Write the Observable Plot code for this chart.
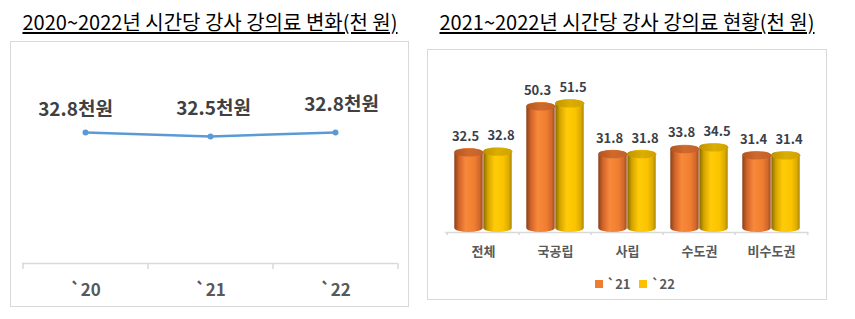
<!DOCTYPE html>
<html><head><meta charset="utf-8">
<script src="https://cdn.jsdelivr.net/npm/d3@7"></script>
<script src="https://cdn.jsdelivr.net/npm/@observablehq/plot@0.6"></script>
<style>
body{margin:0;background:#fff;font-family:"Noto Sans CJK KR","Noto Sans",sans-serif;}
#wrap{position:relative;width:855px;height:319px;overflow:hidden;background:#fff;}
.title{position:absolute;top:8px;font-size:20px;line-height:28px;text-decoration:underline;text-underline-offset:2px;white-space:nowrap;transform:translateX(-50%);color:#000;}
.box{position:absolute;border:1px solid #d9d9d9;box-sizing:border-box;}
.chart{position:absolute;}
.legend{position:absolute;top:274px;left:595px;display:flex;align-items:center;font-size:13px;font-weight:bold;color:#595959;white-space:nowrap;}
.legend span.sw{display:inline-block;width:8px;height:8px;margin-right:4px;}
.legend span.lb{margin-right:9px;}
</style></head>
<body><div id="wrap">
<div class="title" style="left:210px">2020~2022년 시간당 강사 강의료 변화(천 원)</div>
<div class="title" style="left:627px">2021~2022년 시간당 강사 강의료 현황(천 원)</div>
<div class="box" style="left:10px;top:41px;width:399px;height:266px"></div>
<div class="box" style="left:427px;top:49px;width:400px;height:251px"></div>
<div class="chart" id="left" style="left:10px;top:41px"></div>
<div class="chart" id="right" style="left:427px;top:49px"></div>
<div class="legend" id="legend"></div>
</div>
<script>
// ---- data ----
const years = ["`20", "`21", "`22"];
const fee = [32.8, 32.5, 32.8];
const categories = ["전체", "국공립", "사립", "수도권", "비수도권"];
const fee21 = [32.5, 50.3, 31.8, 33.8, 31.4];
const fee22 = [32.8, 51.5, 31.8, 34.5, 31.4];
const seriesNames = ["`21", "`22"];
const unit = "천원";

const font = '"Noto Sans CJK KR","Noto Sans",sans-serif';

// ---- left: line chart ----
const LW = 398, LH = 265, LmT = 8, LmB = 43, LmL = 12, LmR = 11;
const yDomL = [23, 39];
const pxPerUnitL = (LH - LmT - LmB) / (yDomL[1] - yDomL[0]);
const stepL = (LW - LmL - LmR) / years.length;
const nudges = [[-10, -23], [3, -28], [6, -28]];
const leftPlot = Plot.plot({
  width: LW, height: LH, marginTop: LmT, marginBottom: LmB, marginLeft: LmL, marginRight: LmR,
  style: {fontFamily: font, fontSize: "17px", fontWeight: "bold", color: "#595959", background: "transparent", overflow: "visible"},
  x: {type: "point", domain: years, padding: 0.5, tickSize: 0, tickPadding: 20, label: null},
  y: {domain: yDomL, axis: null},
  marks: [
    Plot.ruleY([yDomL[0]], {stroke: "#d9d9d9", strokeWidth: 1.5}),
    Plot.ruleX(years, {x: d => d, y1: yDomL[0], y2: yDomL[0] - 6 / pxPerUnitL, dx: -stepL / 2, stroke: "#d9d9d9", strokeWidth: 1.5}),
    Plot.ruleX(years.slice(-1), {x: d => d, y1: yDomL[0], y2: yDomL[0] - 6 / pxPerUnitL, dx: stepL / 2, stroke: "#d9d9d9", strokeWidth: 1.5}),
    Plot.line(fee, {x: (d, i) => years[i], y: d => d, stroke: "#5B9BD5", strokeWidth: 2.5}),
    Plot.dot(fee, {x: (d, i) => years[i], y: d => d, r: 3, fill: "#5B9BD5"}),
    ...years.map((yr, i) => Plot.text([fee[i]], {
      x: () => yr, y: d => d, text: d => d.toFixed(1) + unit,
      dx: nudges[i][0], dy: nudges[i][1], fontSize: 19, fontWeight: "bold", fill: "#404040"
    }))
  ]
});
document.getElementById("left").appendChild(leftPlot);

// ---- right: cylinder bar chart ----
const RW = 399, RH = 250, RmT = 28, RmB = 67, RmL = 18, RmR = 18;
const yDomR = [0, 60];
const pxPerUnitR = (RH - RmT - RmB) / (yDomR[1] - yDomR[0]);
const bw = (RW - RmL - RmR) / categories.length;
const barW = 29;
const pad = (bw - 2 * barW) / 2;
const capRy = 4;
const rows = [
  categories.map((c, i) => ({c, v: fee21[i]})),
  categories.map((c, i) => ({c, v: fee22[i]}))
];
const capSymbol = {
  draw(ctx) {
    const rx = barW / 2, ry = capRy, k = 0.5523;
    ctx.moveTo(rx, 0);
    ctx.bezierCurveTo(rx, ry * k, rx * k, ry, 0, ry);
    ctx.bezierCurveTo(-rx * k, ry, -rx, ry * k, -rx, 0);
    ctx.bezierCurveTo(-rx, -ry * k, -rx * k, -ry, 0, -ry);
    ctx.bezierCurveTo(rx * k, -ry, rx, -ry * k, rx, 0);
    ctx.closePath();
  }
};
const bodyFill = ["url(#gOr)", "url(#gYe)"];
const capFill = ["url(#cOr)", "url(#cYe)"];
const seriesMarks = rows.flatMap((r, s) => {
  const off = s === 0 ? -barW / 2 : barW / 2;
  const labelOff = s === 0 ? -3.5 : 3;
  return [
    Plot.barY(r, {x: "c", y: "v", insetLeft: s === 0 ? pad : pad + barW, insetRight: s === 0 ? pad + barW : pad,
      fill: bodyFill[s], rx: barW / 2, ry: capRy}),
    Plot.dot(r, {x: "c", y: "v", dx: off, dy: capRy, symbol: capSymbol, r: 4, fill: capFill[s]}),
    Plot.text(r, {x: "c", y: "v", text: d => d.v.toFixed(1), dx: off + labelOff, dy: -12, fontSize: 13, fontWeight: "bold", fill: "#3a3f4a"})
  ];
});
const rightPlot = Plot.plot({
  width: RW, height: RH, marginTop: RmT, marginBottom: RmB, marginLeft: RmL, marginRight: RmR,
  style: {fontFamily: font, fontSize: "13px", fontWeight: "bold", color: "#595959", background: "transparent", overflow: "visible"},
  x: {type: "band", domain: categories, padding: 0, tickSize: 0, tickPadding: 14, label: null},
  y: {domain: yDomR, axis: null},
  marks: [
    Plot.ruleY([0], {stroke: "#d9d9d9", strokeWidth: 1.5}),
    Plot.ruleX(categories, {x: d => d, y1: 0, y2: -3 / pxPerUnitR, dx: -bw / 2, stroke: "#d9d9d9", strokeWidth: 1.5}),
    Plot.ruleX(categories.slice(-1), {x: d => d, y1: 0, y2: -3 / pxPerUnitR, dx: bw / 2, stroke: "#d9d9d9", strokeWidth: 1.5}),
    ...seriesMarks
  ]
});
// gradients for the cylinder look
const defs = d3.select(rightPlot).insert("defs", ":first-child");
function grad(id, stops) {
  const g = defs.append("linearGradient").attr("id", id)
    .attr("x1", 0).attr("y1", 0).attr("x2", 1).attr("y2", 0);
  stops.forEach(([o, c]) => g.append("stop").attr("offset", o).attr("stop-color", c));
}
grad("gOr", [[0, "#8a4015"], [0.16, "#d0642a"], [0.4, "#f8883a"], [0.7, "#f07f31"], [0.9, "#cf672c"], [1, "#9f4c1c"]]);
grad("gYe", [[0, "#876a00"], [0.16, "#d4a300"], [0.4, "#ffcb08"], [0.7, "#fbc400"], [0.9, "#dcab00"], [1, "#a88400"]]);
grad("cOr", [[0, "#b4541f"], [0.5, "#cf6a2e"], [1, "#c45f28"]]);
grad("cYe", [[0, "#c09400"], [0.5, "#dcae00"], [1, "#cfa200"]]);
document.getElementById("right").appendChild(rightPlot);

// legend
const legendColors = ["#ED7D31", "#FFC000"];
const lg = document.getElementById("legend");
seriesNames.forEach((n, i) => {
  const sw = document.createElement("span"); sw.className = "sw"; sw.style.background = legendColors[i];
  const lb = document.createElement("span"); lb.className = "lb"; lb.textContent = n;
  lg.appendChild(sw); lg.appendChild(lb);
});
</script>
</body></html>
